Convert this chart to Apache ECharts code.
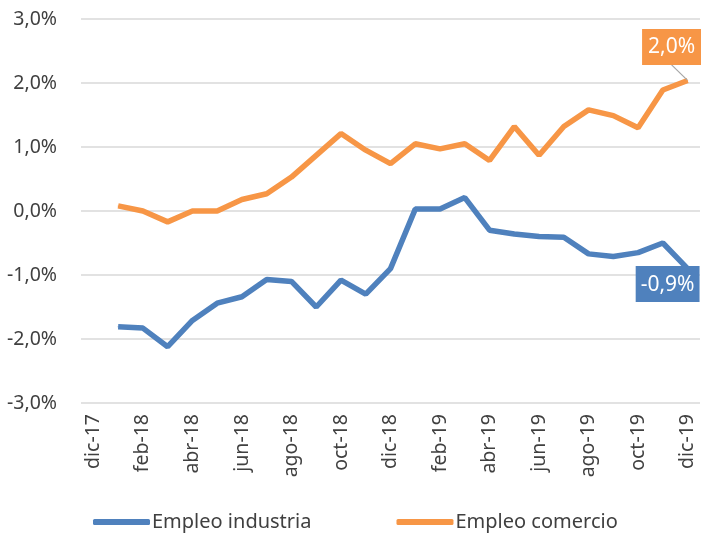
<!DOCTYPE html>
<html>
<head>
<meta charset="utf-8">
<script src="https://cdn.jsdelivr.net/npm/echarts@6/dist/echarts.min.js"></script>
<style>
  html, body { margin: 0; padding: 0; background: #fff; }
  #chart { width: 701px; height: 533px; }
</style>
</head>
<body>
<div id="chart"></div>
<script>
// meses (dic-17 .. dic-19)
var months = ['dic-17', 'ene-18', 'feb-18', 'mar-18', 'abr-18', 'may-18', 'jun-18', 'jul-18', 'ago-18', 'sep-18', 'oct-18', 'nov-18',
    'dic-18', 'ene-19', 'feb-19', 'mar-19', 'abr-19', 'may-19', 'jun-19', 'jul-19', 'ago-19', 'sep-19', 'oct-19', 'nov-19', 'dic-19'];
var industria = [null, -1.81, -1.83, -2.12, -1.71, -1.44, -1.34, -1.07, -1.10, -1.50, -1.08, -1.30,
    -0.90, 0.03, 0.03, 0.21, -0.30, -0.36, -0.40, -0.41, -0.67, -0.71, -0.65, -0.50, -0.90];
var comercio = [null, 0.08, 0.00, -0.17, 0.00, 0.00, 0.18, 0.27, 0.53, 0.87, 1.21, 0.95,
    0.74, 1.05, 0.97, 1.05, 0.79, 1.32, 0.87, 1.32, 1.58, 1.49, 1.30, 1.89, 2.04];
var yTicks = [-3, -2, -1, 0, 1, 2, 3];

var FONT = 'Noto Sans';
var pct = function(v) { return v.toFixed(1).replace('.', ',') + '%'; };

// solo el último punto lleva etiqueta
function withLastLabel(arr, labelOpt) {
    return arr.map(function(v, i) {
        if (i === arr.length - 1) {
            return { value: v, label: labelOpt };
        }
        return v;
    });
}

var option = {
    animation: false,
    grid: { left: 81, right: 1, top: 19, bottom: 130 },
    xAxis: {
        type: 'category',
        data: months,
        boundaryGap: true,
        axisLine: { show: false },
        axisTick: { show: false },
        axisLabel: {
            interval: 1,
            rotate: 90,
            margin: 11,
            fontFamily: FONT,
            fontSize: 19.5,
            color: '#404040'
        }
    },
    yAxis: {
        type: 'value',
        min: yTicks[0],
        max: yTicks[yTicks.length - 1],
        interval: 1,
        axisLine: { show: false },
        axisTick: { show: false },
        splitLine: { lineStyle: { color: '#d9d9d9', width: 1.5 } },
        axisLabel: {
            margin: 24,
            fontFamily: FONT,
            fontSize: 19.5,
            color: '#404040',
            formatter: pct
        }
    },
    legend: {
        left: 88,
        top: 507,
        itemGap: 85,
        itemWidth: 57,
        itemHeight: 6,
        icon: 'roundRect',
        textStyle: { fontFamily: FONT, fontSize: 20, color: '#404040', padding: [0, 0, 0, -3] },
        data: ['Empleo industria', 'Empleo comercio']
    },
    series: [{
        name: 'Empleo industria',
        type: 'line',
        data: withLastLabel(industria, {
            show: true,
            position: 'bottom',
            distance: 0,
            backgroundColor: '#4f81bd',
            color: '#fff',
            fontFamily: FONT,
            fontSize: 21,
            padding: [8, 5, 7, 5],
            offset: [-20, -3],
            formatter: function(p) { return pct(p.value); }
        }),
        symbol: 'circle',
        symbolSize: 1,
        showSymbol: true,
        lineStyle: { width: 5.5, color: '#4f81bd' },
        itemStyle: { color: '#4f81bd' },
        emphasis: { disabled: true },
        z: 3
    }, {
        name: 'Empleo comercio',
        type: 'line',
        data: withLastLabel(comercio, {
            show: true,
            position: 'top',
            distance: 5,
            backgroundColor: '#f79646',
            color: '#fff',
            fontFamily: FONT,
            fontSize: 21,
            padding: [8, 6, 7, 6],
            formatter: function(p) { return pct(p.value); }
        }),
        labelLayout: function(p) {
            if (p.dataIndex === comercio.length - 1) {
                return { dx: -16, dy: -10 };
            }
        },
        labelLine: { show: true, lineStyle: { color: '#a6a6a6', width: 1.2 } },
        symbol: 'circle',
        symbolSize: 1,
        showSymbol: true,
        lineStyle: { width: 5.5, color: '#f79646' },
        itemStyle: { color: '#f79646' },
        emphasis: { disabled: true },
        z: 2
    }]
};

var myChart = echarts.init(document.getElementById('chart'));
myChart.setOption(option);
</script>
</body>
</html>
